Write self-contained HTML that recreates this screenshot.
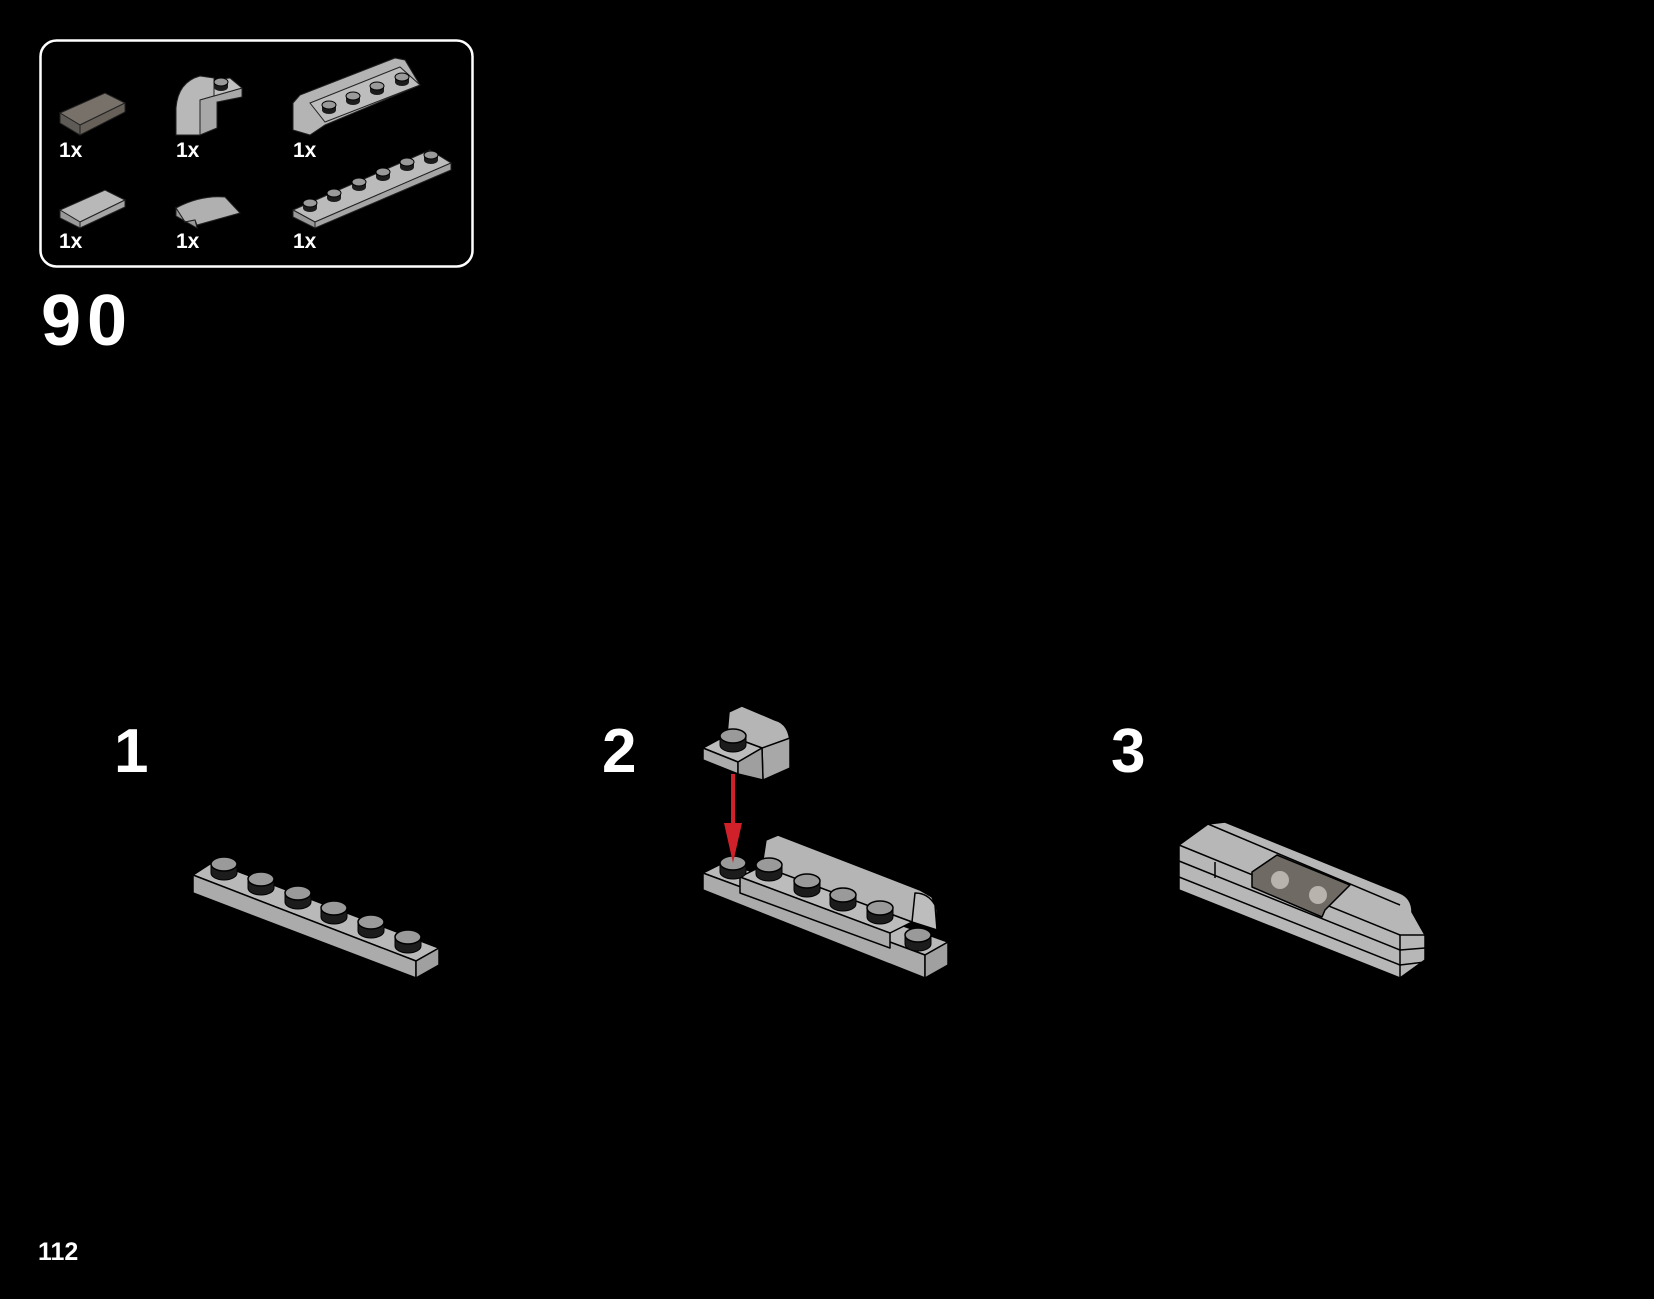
<!DOCTYPE html>
<html><head><meta charset="utf-8"><style>
html,body{margin:0;padding:0;background:#000;}
body{width:1654px;height:1299px;overflow:hidden;}
svg{display:block}
text{font-family:"Liberation Sans",sans-serif;font-weight:bold;fill:#fff}
</style></head><body>
<svg width="1654" height="1299" viewBox="0 0 1654 1299" xmlns="http://www.w3.org/2000/svg">
<defs>
<g id="stud"><path d="M-13,0 L-13,9 A13,7 0 0 0 13,9 L13,0 Z" fill="#1c1c1c" stroke="#000" stroke-width="1"/><ellipse cx="0" cy="0" rx="13" ry="7" fill="#9a9a9a" stroke="#000" stroke-width="1.5"/></g>
<g id="sstud"><path d="M-7,0 L-7,5 A7,4 0 0 0 7,5 L7,0 Z" fill="#1c1c1c"/><ellipse cx="0" cy="0" rx="7" ry="4" fill="#9a9a9a" stroke="#000" stroke-width="1"/></g>
</defs>
<rect width="1654" height="1299" fill="#000"/>

<rect x="40.5" y="40.5" width="432" height="226" rx="16" fill="none" stroke="#fff" stroke-width="2.5"/>
<g stroke="#222" stroke-width="1">
<polygon points="60,113 105,93 125,103 80,125" fill="#77716a"/>
<polygon points="60,113 80,125 80,135 60,123" fill="#5e5a55"/>
<polygon points="80,125 125,103 125,112 80,135" fill="#666059"/>
<path d="M176,135 L176,108 Q178,82 200,76 L214,78 L214,96 L200,100 L200,135 Z" fill="#b8b8b8"/>
<polygon points="200,100 214,96 242,88 242,97 217,102 217,128 200,135" fill="#a8a8a8"/>
<polygon points="214,80 230,78 242,88 214,96" fill="#c0c0c0"/>
<polygon points="293,103 300,95 395,58 405,60 420,85 325,125 310,135 293,130" fill="#b4b4b4"/>
<polygon points="310,103 400,67 420,85 325,122" fill="#bdbdbd"/>
<polygon points="60,210 105,190 125,200 80,222" fill="#b8b8b8"/>
<polygon points="60,210 80,222 80,228 60,218" fill="#999"/>
<polygon points="80,222 125,200 125,207 80,228" fill="#a5a5a5"/>
<path d="M176,208 Q200,195 225,197 L240,213 L197,225 L195,220 L185,222 Z" fill="#b0b0b0"/>
<polygon points="185,222 195,220 197,228 176,216 176,208" fill="#999"/>
<polygon points="293,210 430,150 451,163 315,222" fill="#bbb"/>
<polygon points="293,210 315,222 315,228 293,217" fill="#999"/>
<polygon points="315,222 451,163 451,170 315,228" fill="#a5a5a5"/>
</g>
<g>
<use href="#sstud" x="221" y="82"/>
<use href="#sstud" x="329" y="105"/><use href="#sstud" x="353" y="96"/><use href="#sstud" x="377" y="86"/><use href="#sstud" x="402" y="77"/>
<use href="#sstud" x="310" y="203"/><use href="#sstud" x="334" y="193"/><use href="#sstud" x="359" y="182"/><use href="#sstud" x="383" y="172"/><use href="#sstud" x="407" y="162"/><use href="#sstud" x="431" y="155"/>
</g>
<text x="59" y="157" font-size="21">1x</text>
<text x="176" y="157" font-size="21">1x</text>
<text x="293" y="157" font-size="21">1x</text>
<text x="59" y="248" font-size="21">1x</text>
<text x="176" y="248" font-size="21">1x</text>
<text x="293" y="248" font-size="21">1x</text>

<text x="41" y="345" font-size="72" letter-spacing="6">90</text>
<text x="114" y="772" font-size="62">1</text>
<text x="602" y="772" font-size="62">2</text>
<text x="1111" y="772" font-size="62">3</text>
<text x="38" y="1260" font-size="25">112</text>

<g stroke="#000" stroke-width="1.5" stroke-linejoin="round">
<polygon points="193,875 213,862 439,948 416,961" fill="#b9b9b9"/>
<polygon points="193,875 416,961 416,978 193,893" fill="#ababab"/>
<polygon points="416,961 439,948 439,965 416,978" fill="#a0a0a0"/>
</g>
<use href="#stud" x="224" y="864"/><use href="#stud" x="261" y="879"/><use href="#stud" x="298" y="893"/><use href="#stud" x="334" y="908"/><use href="#stud" x="371" y="922"/><use href="#stud" x="408" y="937"/>

<g stroke="#000" stroke-width="1.5" stroke-linejoin="round">
<polygon points="703,873 725,862 948,942 925,955" fill="#b9b9b9"/>
<polygon points="703,873 925,955 925,978 703,890" fill="#ababab"/>
<polygon points="925,955 948,942 948,965 925,978" fill="#a0a0a0"/>
<polygon points="762,866 766,840 778,835 920,890 932,897 937,910 937,930 912,922" fill="#b5b5b5"/>
<path d="M912,922 L915,893 Q928,893 935,905 L937,930 Z" fill="#bdbdbd"/>
<polygon points="740,877 762,866 912,922 890,933" fill="#bcbcbc"/>
<polygon points="740,877 890,933 890,948 740,893" fill="#ababab"/>
</g>
<use href="#stud" x="733" y="863"/>
<use href="#stud" x="769" y="865"/><use href="#stud" x="807" y="881"/><use href="#stud" x="843" y="895"/><use href="#stud" x="880" y="908"/>
<use href="#stud" x="918" y="935"/>
<g stroke="#000" stroke-width="1.5" stroke-linejoin="round">
<path d="M727,735 L729,712 L742,706 L775,720 Q790,724 790,745 L790,768 L763,780 L762,748 Z" fill="#b5b5b5"/>
<polygon points="762,748 790,738 790,768 763,780" fill="#a8a8a8"/>
<polygon points="703,748 727,735 762,748 738,762" fill="#bcbcbc"/>
<polygon points="703,748 738,762 738,774 703,760" fill="#ababab"/>
<polygon points="738,762 762,748 763,780 738,774" fill="#9f9f9f"/>
</g>
<use href="#stud" x="733" y="736"/>
<rect x="731" y="774" width="4" height="52" fill="#d0202a"/>
<polygon points="724,823 742,823 733,863" fill="#d0202a"/>

<g stroke="#000" stroke-width="1.5" stroke-linejoin="round">
<path d="M1179,845 L1208,824 L1225,822 L1400,893 Q1412,898 1412,912 L1425,935 L1425,960 L1400,978 L1179,890 Z" fill="#b7b7b7"/>
<polyline points="1179,845 1400,935 1425,935" fill="none"/>
<polyline points="1179,861 1400,950 1425,948" fill="none"/>
<polyline points="1179,877 1400,965 1425,962" fill="none"/>
<line x1="1400" y1="935" x2="1400" y2="978"/>
<line x1="1208" y1="824" x2="1400" y2="905"/>
<line x1="1215" y1="878" x2="1215" y2="862"/>
<polygon points="1252,872 1277,855 1350,885 1325,910 1322,917 1252,887" fill="#6f6a64"/>
<circle cx="1280" cy="880" r="9" fill="#b8b3ac" stroke="none"/>
<circle cx="1318" cy="895" r="9" fill="#b8b3ac" stroke="none"/>
</g>
</svg>
</body></html>
